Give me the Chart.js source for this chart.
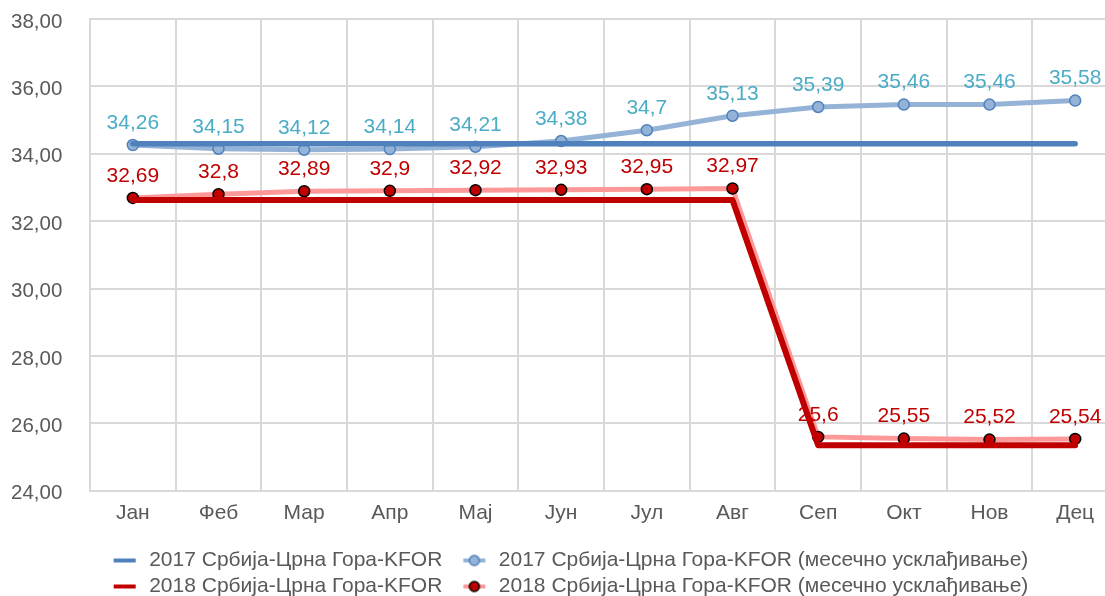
<!DOCTYPE html>
<html>
<head>
<meta charset="utf-8">
<script src="https://cdn.jsdelivr.net/npm/chart.js@4/dist/chart.umd.min.js"></script>
<style>
  html, body { margin: 0; padding: 0; background: #fff; overflow: hidden; }
  #wrap { width: 1125px; height: 596px; }
</style>
</head>
<body>
<div id="wrap"><canvas id="myChart"></canvas></div>
<script>
// podaci
var meseci = ['Јан', 'Феб', 'Мар', 'Апр', 'Мај', 'Јун', 'Јул', 'Авг', 'Сеп', 'Окт', 'Нов', 'Дец'];
var kfor2017 = [34.3, 34.3, 34.3, 34.3, 34.3, 34.3, 34.3, 34.3, 34.3, 34.3, 34.3, 34.3];
var kfor2017mes = [34.26, 34.15, 34.12, 34.14, 34.21, 34.38, 34.7, 35.13, 35.39, 35.46, 35.46, 35.58];
var kfor2018 = [32.63, 32.63, 32.63, 32.63, 32.63, 32.63, 32.63, 32.63, 25.35, 25.35, 25.35, 25.35];
var kfor2018mes = [32.69, 32.8, 32.89, 32.9, 32.92, 32.93, 32.95, 32.97, 25.6, 25.55, 25.52, 25.54];
var nazivi = [
    '2017 Србија-Црна Гора-KFOR',
    '2017 Србија-Црна Гора-KFOR (месечно усклађивање)',
    '2018 Србија-Црна Гора-KFOR',
    '2018 Србија-Црна Гора-KFOR (месечно усклађивање)'
];
var yMin = 24, yMax = 38, yKorak = 2;

var FONT = '"Liberation Sans", Arial, sans-serif';
var SIVA = '#595959';

function zarez(v, dec) {
    var s = dec === undefined ? String(v) : v.toFixed(dec);
    return s.replace('.', ',');
}

// ikonice za legendu
function ikona(boja, marker, ivica) {
    var c = document.createElement('canvas');
    c.width = 41; c.height = 14;
    var g = c.getContext('2d');
    g.strokeStyle = boja;
    g.lineWidth = 4;
    g.beginPath(); g.moveTo(16, 7); g.lineTo(38, 7); g.stroke();
    if (marker) {
        g.beginPath(); g.arc(27, 7, 5, 0, Math.PI * 2);
        g.fillStyle = marker; g.fill();
        g.lineWidth = 1.5; g.strokeStyle = ivica; g.stroke();
    }
    return c;
}
var ikone = [
    ikona('#4F81BD'),
    ikona('#95B3D7', '#95B3D7', '#4F81BD'),
    ikona('#C00000'),
    ikona('#FF9999', '#C00000', '#000000')
];

var oznake = {
    id: 'oznake',
    afterLayout: function(chart) {
        // mala korekcija polozaja legende
        chart.legend.left -= 5;
        chart.legend.right -= 5;
    },
    afterDatasetsDraw: function(chart) {
        var ctx = chart.ctx;
        chart.data.datasets.forEach(function(ds, i) {
            if (!ds.bojaOznake) return;
            var meta = chart.getDatasetMeta(i);
            ctx.save();
            ctx.font = '21px ' + FONT;
            ctx.fillStyle = ds.bojaOznake;
            ctx.textAlign = 'center';
            ctx.textBaseline = 'middle';
            meta.data.forEach(function(pt, j) {
                ctx.fillText(zarez(ds.data[j]), pt.x, pt.y - 22);
            });
            ctx.restore();
        });
    }
};

var ctx = document.getElementById('myChart');
new Chart(ctx, {
    type: 'line',
    data: {
        labels: meseci,
        datasets: [{
            label: nazivi[0],
            data: kfor2017,
            borderColor: '#4F81BD',
            borderWidth: 5.5,
            borderCapStyle: 'round',
            pointRadius: 0,
            order: 1
        }, {
            label: nazivi[1],
            data: kfor2017mes,
            borderColor: '#95B3D7',
            borderWidth: 5,
            pointRadius: 5.5,
            pointBackgroundColor: '#95B3D7',
            pointBorderColor: '#4F81BD',
            pointBorderWidth: 1.5,
            bojaOznake: '#4BACC6',
            order: 3
        }, {
            label: nazivi[2],
            data: kfor2018,
            borderColor: '#C00000',
            borderWidth: 6,
            borderCapStyle: 'round',
            borderJoinStyle: 'round',
            pointRadius: 0,
            order: 2
        }, {
            label: nazivi[3],
            data: kfor2018mes,
            borderColor: '#FF9999',
            borderWidth: 5,
            pointRadius: 5.5,
            pointBackgroundColor: '#C00000',
            pointBorderColor: '#000000',
            pointBorderWidth: 1.5,
            bojaOznake: '#C00000',
            order: 4
        }]
    },
    options: {
        responsive: true,
        maintainAspectRatio: false,
        animation: false,
        layout: { padding: { top: 19, right: 0, bottom: -11, left: 11 } },
        scales: {
            x: {
                offset: true,
                afterFit: function(scale) { scale.height += 9; },
                grid: { offset: true, color: '#D9D9D9', lineWidth: 2, drawTicks: false },
                border: { color: '#D9D9D9', width: 2 },
                ticks: { color: SIVA, font: { family: FONT, size: 21 }, padding: 10 }
            },
            y: {
                min: yMin,
                max: yMax,
                afterFit: function(scale) { scale.width = 79; },
                grid: { color: '#D9D9D9', lineWidth: 2, drawTicks: false },
                border: { color: '#D9D9D9', width: 2 },
                ticks: {
                    stepSize: yKorak,
                    color: SIVA,
                    font: { family: FONT, size: 20.5 },
                    padding: 0,
                    crossAlign: 'far',
                    labelOffset: 3,
                    callback: function(v) { return zarez(v, 2); }
                }
            }
        },
        plugins: {
            tooltip: { enabled: false },
            legend: {
                position: 'bottom',
                labels: {
                    color: SIVA,
                    font: { family: FONT, size: 21 },
                    usePointStyle: true,
                    pointStyleWidth: 41,
                    padding: 5,
                    generateLabels: function(chart) {
                        return chart.data.datasets.map(function(ds, i) {
                            return {
                                text: ds.label,
                                pointStyle: ikone[i],
                                datasetIndex: i,
                                hidden: false,
                                fontColor: SIVA,
                                lineWidth: 0
                            };
                        });
                    }
                }
            }
        }
    },
    plugins: [oznake]
});
</script>
</body>
</html>
